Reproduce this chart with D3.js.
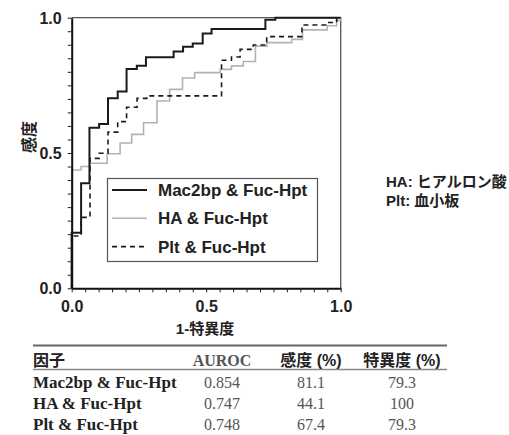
<!DOCTYPE html>
<html lang="ja">
<head>
<meta charset="UTF-8">
<title>ROC curves</title>
<script src="https://d3js.org/d3.v7.min.js"></script>
<style>
    body { margin: 0; background: #fff; }
    svg { display: block; }
    .sans { font-family: Arial, "Liberation Sans", "Noto Sans CJK JP", sans-serif; font-weight: bold; fill: #222; }
    .serif { font-family: "Liberation Serif", "Times New Roman", "Noto Sans CJK JP", serif; }
</style>
</head>
<body>
<svg width="509" height="435"></svg>
<script>
// ROC step vertices (1-specificity, sensitivity)
var mac2bpX = [0, 0, 0.035, 0.066, 0.102, 0.135, 0.171, 0.204, 0.242, 0.276, 0.379, 0.414, 0.45, 0.487, 0.52, 0.72, 0.757, 1.0];
var mac2bpY = [0, 0.205, 0.388, 0.593, 0.607, 0.702, 0.727, 0.81, 0.822, 0.854, 0.875, 0.893, 0.905, 0.942, 0.958, 0.992, 1.0, 1.0];

var haX = [0, 0, 0.035, 0.068, 0.132, 0.18, 0.223, 0.267, 0.317, 0.364, 0.412, 0.457, 0.552, 0.594, 0.638, 0.683, 0.726, 0.818, 0.858, 0.95, 0.985, 1.0];
var haY = [0, 0.437, 0.45, 0.462, 0.497, 0.537, 0.569, 0.612, 0.692, 0.735, 0.777, 0.797, 0.809, 0.822, 0.838, 0.895, 0.908, 0.92, 0.955, 0.97, 0.99, 1.0];

var pltX = [0, 0, 0.035, 0.068, 0.102, 0.135, 0.171, 0.204, 0.243, 0.279, 0.557, 0.594, 0.626, 0.675, 0.725, 0.856, 0.948, 0.985, 1.0];
var pltY = [0, 0.193, 0.262, 0.48, 0.499, 0.577, 0.616, 0.669, 0.702, 0.711, 0.843, 0.855, 0.883, 0.899, 0.93, 0.973, 0.982, 1.0, 1.0];

var seriesNames = ["Mac2bp & Fuc-Hpt", "HA & Fuc-Hpt", "Plt & Fuc-Hpt"];
var axisTicks = [0, 0.5, 1.0];

// table
var tableHeader = ["因子", "AUROC", "感度 (%)", "特異度 (%)"];
var tableFactors = ["Mac2bp & Fuc-Hpt", "HA & Fuc-Hpt", "Plt & Fuc-Hpt"];
var tableAuroc = ["0.854", "0.747", "0.748"];
var tableSens = ["81.1", "44.1", "67.4"];
var tableSpec = ["79.3", "100", "79.3"];

var notes = ["HA: ヒアルロン酸", "Plt: 血小板"];

var svg = d3.select("svg");

var x = d3.scaleLinear().domain([0, 1]).range([71.7, 340.7]);
var y = d3.scaleLinear().domain([0, 1]).range([288.3, 17.7]);

var styles = [
    { stroke: "#1a1a1a", width: 2, dash: null },
    { stroke: "#b3b3b3", width: 1.6, dash: null },
    { stroke: "#1a1a1a", width: 1.6, dash: "5,4" }
];

// frame (top and right)
svg.append("path")
    .attr("d", "M" + x(0) + "," + y(1) + "H" + x(1) + "V" + y(0))
    .attr("fill", "none")
    .attr("stroke", "#555")
    .attr("stroke-width", 1.3);

// curves
var line = d3.line()
    .x(function(d) { return x(d[0]); })
    .y(function(d) { return y(d[1]); })
    .curve(d3.curveStepAfter);

var curves = [d3.zip(mac2bpX, mac2bpY), d3.zip(haX, haY), d3.zip(pltX, pltY)];

[1, 2, 0].forEach(function(i) {
    svg.append("path")
        .datum(curves[i])
        .attr("d", line)
        .attr("fill", "none")
        .attr("stroke", styles[i].stroke)
        .attr("stroke-width", styles[i].width)
        .attr("stroke-dasharray", styles[i].dash);
});

// axes
var fmt = function(d) {
    return axisTicks.some(function(t) { return Math.abs(t - d) < 1e-6; }) ? d3.format(".1f")(d) : "";
};
var tickVals = d3.range(0, 1.0001, 0.05);

var xAxis = svg.append("g")
    .attr("transform", "translate(0," + y(0) + ")")
    .call(d3.axisBottom(x).tickValues(tickVals).tickFormat(fmt).tickSize(4).tickSizeOuter(0));
var yAxis = svg.append("g")
    .attr("transform", "translate(" + x(0) + ",0)")
    .call(d3.axisLeft(y).tickValues(tickVals).tickFormat(fmt).tickSize(4).tickSizeOuter(0));

[xAxis, yAxis].forEach(function(g) {
    g.select(".domain").attr("stroke", "#111").attr("stroke-width", 2);
    g.selectAll(".tick line").attr("stroke", "#222").attr("stroke-width", 1);
    g.selectAll(".tick text")
        .attr("class", "sans")
        .style("font-size", "16px")
        .attr("fill", "#222");
});
xAxis.selectAll(".tick text").attr("dy", null).attr("y", 24);
yAxis.selectAll(".tick text").attr("x", -10).attr("dy", "0.35em");

// axis titles
svg.append("text")
    .attr("class", "sans")
    .attr("x", 205).attr("y", 334)
    .attr("text-anchor", "middle")
    .style("font-size", "15px")
    .text("1-特異度");

svg.append("text")
    .attr("class", "sans")
    .attr("transform", "translate(35,137) rotate(-90)")
    .attr("text-anchor", "middle")
    .style("font-size", "16px")
    .text("感度");

// legend
var legend = svg.append("g");
legend.append("rect")
    .attr("x", 107.5).attr("y", 178.5)
    .attr("width", 210).attr("height", 83)
    .attr("fill", "#fff")
    .attr("stroke", "#555")
    .attr("stroke-width", 1.2);

seriesNames.forEach(function(name, i) {
    var ly = 190 + i * 28.3;
    legend.append("line")
        .attr("x1", 112).attr("x2", 147)
        .attr("y1", ly).attr("y2", ly)
        .attr("stroke", styles[i].stroke)
        .attr("stroke-width", styles[i].width)
        .attr("stroke-dasharray", styles[i].dash);
    legend.append("text")
        .attr("class", "sans")
        .attr("x", 158).attr("y", ly)
        .attr("dy", "0.35em")
        .style("font-size", "17px")
        .text(name);
});

// notes on the right
notes.forEach(function(t, i) {
    svg.append("text")
        .attr("class", "sans")
        .attr("x", 386).attr("y", 187 + i * 19)
        .style("font-size", "15px")
        .text(t);
});

// table
var colX = [33, 222, 311, 402];
var table = svg.append("g");
table.append("line")
    .attr("x1", 33).attr("x2", 447).attr("y1", 345.5).attr("y2", 345.5)
    .attr("stroke", "#666").attr("stroke-width", 2);
table.append("line")
    .attr("x1", 33).attr("x2", 447).attr("y1", 369.5).attr("y2", 369.5)
    .attr("stroke", "#888").attr("stroke-width", 1.5);

tableHeader.forEach(function(h, j) {
    table.append("text")
        .attr("class", j === 1 ? "serif" : "sans")
        .attr("x", colX[j]).attr("y", 366)
        .attr("text-anchor", j === 0 ? "start" : "middle")
        .style("font-weight", "bold")
        .style("font-size", "16px")
        .attr("fill", j === 1 ? "#555" : "#222")
        .text(h);
});

tableFactors.forEach(function(f, i) {
    var ry = 388 + i * 21;
    table.append("text")
        .attr("class", "serif")
        .attr("x", colX[0]).attr("y", ry)
        .style("font-weight", "bold")
        .style("font-size", "17px")
        .attr("fill", "#222")
        .text(f);
    [tableAuroc[i], tableSens[i], tableSpec[i]].forEach(function(v, j) {
        table.append("text")
            .attr("class", "serif")
            .attr("x", colX[j + 1]).attr("y", ry)
            .attr("text-anchor", "middle")
            .style("font-size", "16px")
            .attr("fill", "#555")
            .text(v);
    });
});
</script>
</body>
</html>
